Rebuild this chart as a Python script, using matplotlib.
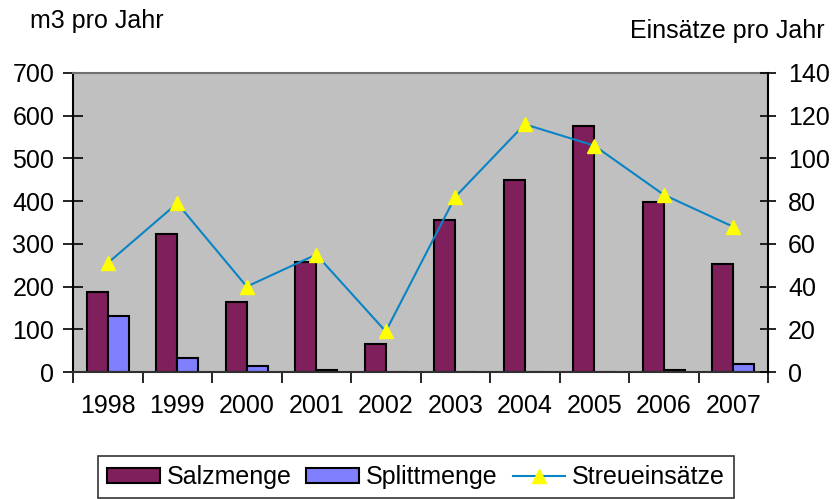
import matplotlib
matplotlib.use("Agg")
import matplotlib.pyplot as plt
import numpy as np
from matplotlib.patches import Patch
from matplotlib.lines import Line2D

plt.rcParams['font.family'] = ['Liberation Sans', 'DejaVu Sans']

years = ["1998", "1999", "2000", "2001", "2002", "2003", "2004", "2005", "2006", "2007"]
salzmenge = [187, 323, 163, 258, 66, 355, 449, 575, 397, 253]
splittmenge = [130, 32, 15, 5, 0, 0, 0, 0, 4, 19]
streueinsaetze = [51, 79, 40, 55, 19, 82, 116, 106, 83, 68]

salz_color = '#7F1F5C'
splitt_color = '#8080FF'
line_color = '#0A84C4'
marker_color = '#FFFF00'
fs = 18

fig = plt.figure(figsize=(8.35, 4.99), dpi=100)
ax = fig.add_axes([73/835, 1-372/499, 695/835, 299/499])
ax.set_facecolor('#C0C0C0')

x = np.arange(len(years))
w = 0.3
ax.bar(x - w/2, salzmenge, w, color=salz_color, edgecolor='black', linewidth=1.5, zorder=2)
ax.bar(x + w/2, splittmenge, w, color=splitt_color, edgecolor='black', linewidth=1.5, zorder=2)

ax.set_xlim(-0.5, len(years) - 0.5)
ax.set_ylim(0, 700)
ax.set_yticks(range(0, 701, 100))
ax.set_xticks(x)
ax.set_xticklabels(years)
ax.set_xticks(np.arange(-0.5, len(years)), minor=True)
ax.tick_params(axis='x', which='major', length=0, pad=16, labelsize=fs)
ax.tick_params(axis='x', which='minor', length=8, width=1.2, direction='out', color='black')
ax.tick_params(axis='y', which='major', length=15, width=1.2, direction='inout', pad=6, labelsize=fs)

ax.spines['left'].set_color('black'); ax.spines['left'].set_linewidth(1.5)
ax.spines['bottom'].set_color('#303030'); ax.spines['bottom'].set_linewidth(1.5)
ax.spines['top'].set_color('#707070'); ax.spines['top'].set_linewidth(1.5)
ax.spines['right'].set_visible(False)

ax2 = ax.twinx()
ax2.plot(x, streueinsaetze, color=line_color, linewidth=1.5, marker='^', markersize=10,
         markerfacecolor=marker_color, markeredgecolor=marker_color, zorder=3)
ax2.set_ylim(0, 140)
ax2.set_yticks(range(0, 141, 20))
ax2.tick_params(axis='y', which='major', length=11, width=1.2, direction='inout', pad=9, labelsize=fs)
for s in ['left', 'top', 'bottom']:
    ax2.spines[s].set_visible(False)
ax2.spines['right'].set_color('black'); ax2.spines['right'].set_linewidth(1.5)

fig.text(30/835, 1-21/499, 'm3 pro Jahr', fontsize=fs, ha='left', va='center')
fig.text(825/835, 1-31/499, 'Einsätze pro Jahr', fontsize=fs, ha='right', va='center')

handles = [
    Patch(facecolor=salz_color, edgecolor='black', linewidth=1.5),
    Patch(facecolor=splitt_color, edgecolor='black', linewidth=1.5),
    Line2D([0], [0], color=line_color, linewidth=1.5, marker='^', markersize=10,
           markerfacecolor=marker_color, markeredgecolor=marker_color),
]
leg = fig.legend(handles, ['Salzmenge', 'Splittmenge', 'Streueinsätze'], loc='center',
                 bbox_to_anchor=(416/835, 1-477/499), ncol=3, fontsize=fs, frameon=True,
                 fancybox=False, edgecolor='black', handlelength=2.1, handleheight=0.56,
                 handletextpad=0.28, columnspacing=0.6, borderpad=0.35, borderaxespad=0)
leg.get_frame().set_linewidth(1.2)

fig.savefig('out.png', dpi=100)
